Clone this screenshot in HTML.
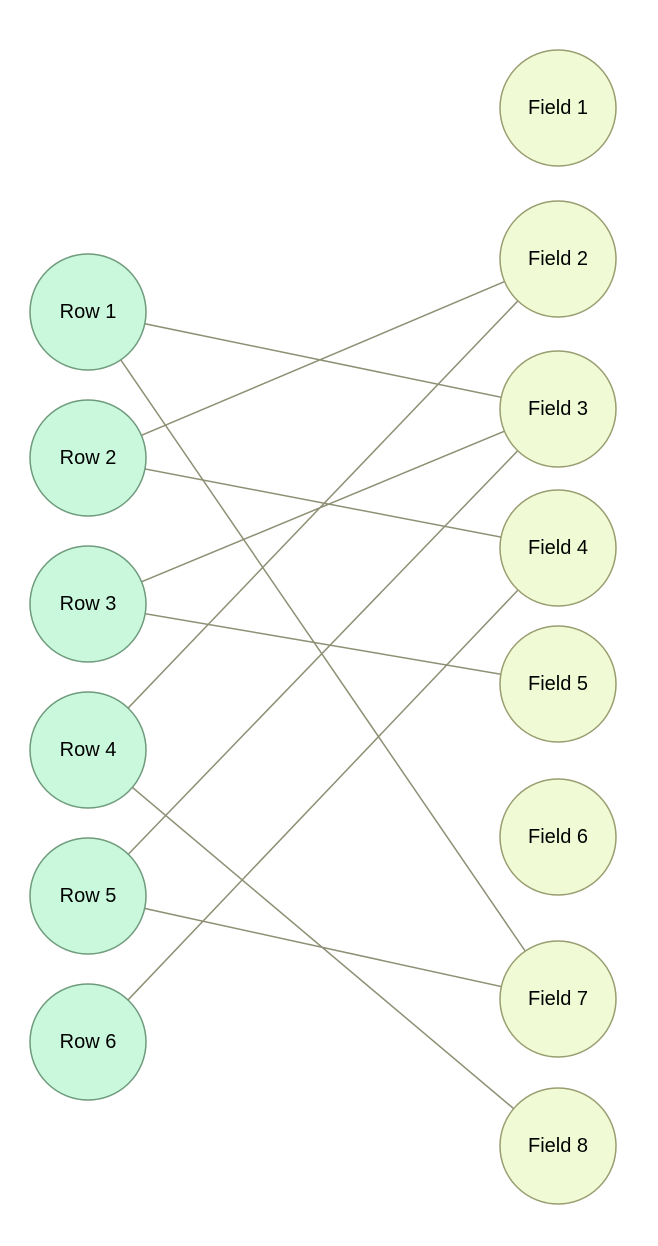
<!DOCTYPE html>
<html><head><meta charset="utf-8"><style>html,body{margin:0;padding:0;background:#fff}svg{display:block}</style></head><body>
<svg width="658" height="1246" viewBox="0 0 658 1246" xmlns="http://www.w3.org/2000/svg">
<g stroke="#8e8f74" stroke-width="1.5">
<line x1="88" y1="312" x2="558" y2="409"/>
<line x1="88" y1="312" x2="558" y2="999"/>
<line x1="88" y1="458" x2="558" y2="259"/>
<line x1="88" y1="458" x2="558" y2="548"/>
<line x1="88" y1="604" x2="558" y2="409"/>
<line x1="88" y1="604" x2="558" y2="684"/>
<line x1="88" y1="750" x2="558" y2="259"/>
<line x1="88" y1="750" x2="558" y2="1146"/>
<line x1="88" y1="896" x2="558" y2="409"/>
<line x1="88" y1="896" x2="558" y2="999"/>
<line x1="88" y1="1042" x2="558" y2="548"/>
</g>
<g fill="#c9f8dc" stroke="#6f9a7c" stroke-width="1.5">
<circle cx="88" cy="312" r="58"/><circle cx="88" cy="458" r="58"/><circle cx="88" cy="604" r="58"/>
<circle cx="88" cy="750" r="58"/><circle cx="88" cy="896" r="58"/><circle cx="88" cy="1042" r="58"/>
</g>
<g fill="#f0fbd5" stroke="#999d70" stroke-width="1.5">
<circle cx="558" cy="108" r="58"/><circle cx="558" cy="259" r="58"/><circle cx="558" cy="409" r="58"/>
<circle cx="558" cy="548" r="58"/><circle cx="558" cy="684" r="58"/><circle cx="558" cy="837" r="58"/>
<circle cx="558" cy="999" r="58"/><circle cx="558" cy="1146" r="58"/>
</g>
<g font-family="Liberation Sans, sans-serif" font-size="20" fill="#000" text-anchor="middle" dominant-baseline="central">
<text x="88" y="312">Row 1</text><text x="88" y="458">Row 2</text><text x="88" y="604">Row 3</text>
<text x="88" y="750">Row 4</text><text x="88" y="896">Row 5</text><text x="88" y="1042">Row 6</text>
<text x="558" y="108">Field 1</text><text x="558" y="259">Field 2</text><text x="558" y="409">Field 3</text>
<text x="558" y="548">Field 4</text><text x="558" y="684">Field 5</text><text x="558" y="837">Field 6</text>
<text x="558" y="999">Field 7</text><text x="558" y="1146">Field 8</text>
</g>
</svg>
</body></html>
